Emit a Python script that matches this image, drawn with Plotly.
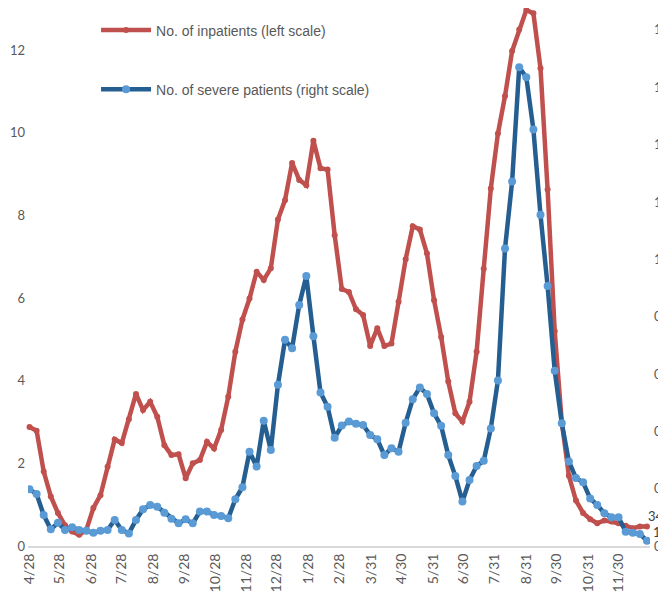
import pandas as pd
import plotly.graph_objects as go
from plotly.subplots import make_subplots

# weekly values, 2020-04-28 .. 2021-12-28
weeks = pd.date_range('2020-04-28', periods=88, freq='7D')

inpatients = [
    2.88, 2.79, 1.80, 1.20, 0.80, 0.50, 0.35, 0.27, 0.39, 0.92,
    1.23, 1.92, 2.58, 2.49, 3.07, 3.68, 3.29, 3.49, 3.13, 2.44,
    2.20, 2.22, 1.64, 2.00, 2.08, 2.52, 2.36, 2.81, 3.61, 4.70,
    5.48, 5.99, 6.64, 6.44, 6.72, 7.90, 8.37, 9.27, 8.86, 8.73,
    9.81, 9.14, 9.11, 7.52, 6.22, 6.15, 5.73, 5.59, 4.84, 5.27,
    4.84, 4.90, 5.91, 6.94, 7.74, 7.66, 7.08, 5.95, 5.06, 3.98,
    3.21, 3.01, 3.49, 4.70, 6.71, 8.65, 9.98, 10.89, 11.98, 12.50,
    12.97, 12.89, 11.56, 8.63, 5.20, 3.00, 1.70, 1.10, 0.80, 0.65,
    0.55, 0.62, 0.59, 0.55, 0.49, 0.43, 0.47, 0.47,
]

severe = [
    0.198, 0.181, 0.108, 0.058, 0.081, 0.056, 0.065, 0.056, 0.053, 0.046,
    0.053, 0.056, 0.091, 0.056, 0.044, 0.091, 0.128, 0.143, 0.137, 0.116,
    0.095, 0.079, 0.093, 0.079, 0.120, 0.120, 0.108, 0.105, 0.097, 0.163,
    0.205, 0.329, 0.277, 0.437, 0.335, 0.562, 0.719, 0.690, 0.841, 0.942,
    0.732, 0.535, 0.486, 0.378, 0.420, 0.434, 0.426, 0.422, 0.387, 0.372,
    0.317, 0.341, 0.329, 0.430, 0.512, 0.553, 0.530, 0.463, 0.419, 0.317,
    0.244, 0.155, 0.230, 0.279, 0.297, 0.410, 0.577, 1.038, 1.271, 1.670,
    1.635, 1.453, 1.155, 0.907, 0.611, 0.428, 0.295, 0.237, 0.222, 0.166,
    0.143, 0.114, 0.100, 0.100, 0.050, 0.046, 0.042, 0.018,
]

tick_dates = ['2020-04-28', '2020-05-28', '2020-06-28', '2020-07-28', '2020-08-28',
              '2020-09-28', '2020-10-28', '2020-11-28', '2020-12-28', '2021-01-28',
              '2021-02-28', '2021-03-31', '2021-04-30', '2021-05-31', '2021-06-30',
              '2021-07-31', '2021-08-31', '2021-09-30', '2021-10-31', '2021-11-30']
tick_labels = ['4/28', '5/28', '6/28', '7/28', '8/28', '9/28', '10/28', '11/28', '12/28', '1/28',
               '2/28', '3/31', '4/30', '5/31', '6/30', '7/31', '8/31', '9/30', '10/31', '11/30']

left_ticks = [0, 2, 4, 6, 8, 10, 12]
right_ticks = [0, 0.2, 0.4, 0.6, 0.8, 1.0, 1.2, 1.4, 1.6, 1.8]
right_labels = ['0', '0.2', '0.4', '0.6', '0.8', '1.0', '1.2', '1.4', '1.6', '1.8']

grey = '#595959'

fig = make_subplots(specs=[[{"secondary_y": True}]])

fig.add_trace(
    go.Scatter(x=weeks, y=inpatients, name='No. of inpatients (left scale)',
               mode='lines+markers', legendgroup='a', cliponaxis=False,
               line=dict(color='#C0504D', width=4.5),
               marker=dict(color='#C0504D', size=6)),
    secondary_y=False
)
fig.add_trace(
    go.Scatter(x=weeks, y=severe, name='No. of severe patients (right scale)',
               mode='lines+markers', legendgroup='b',
               line=dict(color='#255E91', width=4.5),
               marker=dict(color='#5B9BD5', size=8)),
    secondary_y=True
)

# page has an 8px body margin, so the frame is shifted to match the crop
fig.update_xaxes(type='date', range=['2020-04-26 12:00', '2021-12-31'], domain=[0, 1],
                 tickvals=tick_dates, ticktext=tick_labels, tickangle=-90,
                 tickfont=dict(family='Lato', size=14, color=grey),
                 showgrid=False, zeroline=False, automargin=False,
                 showline=True, linecolor='#D9D9D9', linewidth=2)
fig.update_yaxes(range=[0, 13.02], tickvals=left_ticks, showgrid=False, zeroline=False,
                 tickfont=dict(family='Lato', size=13, color=grey), automargin=False,
                 ticklabelstandoff=2, secondary_y=False)
fig.update_yaxes(range=[0, 1.8765], tickvals=right_ticks, ticktext=right_labels,
                 showgrid=False, zeroline=False, automargin=False,
                 tickfont=dict(family='Lato', size=13, color=grey),
                 ticklabelstandoff=3, secondary_y=True)

# end-of-series data labels
fig.add_annotation(x=1, xref='paper', y=0.73, yref='y', text='34', showarrow=False,
                   xanchor='left', xshift=-4, font=dict(family='Lato', size=13, color='#404040'))
fig.add_annotation(x=1, xref='paper', y=0.34, yref='y', text='1', showarrow=False,
                   xanchor='left', xshift=1, font=dict(family='Lato', size=13, color='#404040'))

fig.update_layout(
    width=666, height=599,
    margin=dict(l=20, r=24, t=0, b=61),
    plot_bgcolor='white', paper_bgcolor='white',
    legend=dict(x=0.1094, y=0.988, xanchor='left', yanchor='top',
                font=dict(family='Liberation Sans', size=14, color=grey),
                tracegroupgap=38, itemwidth=50, bgcolor='rgba(0,0,0,0)'),
)

fig.write_html("out.html")
